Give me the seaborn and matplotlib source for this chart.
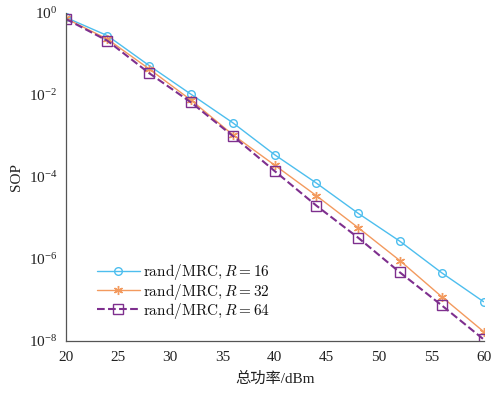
import numpy as np
import pandas as pd
import matplotlib
matplotlib.use("Agg")
import matplotlib.pyplot as plt
import seaborn as sns
from matplotlib.ticker import LogFormatterSciNotation, NullLocator

power = [20, 24, 28, 32, 36, 40, 44, 48, 52, 56, 60]
sop_r16 = [0.78, 0.28, 0.052, 0.0104, 0.0021, 3.5e-4, 7.1e-5, 1.3e-5, 2.7e-6, 4.6e-7, 9.1e-8]
sop_r32 = [0.74, 0.23, 0.043, 0.0075, 0.00107, 1.95e-4, 3.5e-5, 5.8e-6, 9.1e-7, 1.2e-7, 1.7e-8]
sop_r64 = [0.72, 0.21, 0.034, 0.0066, 0.0010, 1.4e-4, 2.0e-5, 3.3e-6, 4.7e-7, 7.4e-8, 1.1e-8]
labels = [r'$\mathrm{rand/MRC,}R = 16$', r'$\mathrm{rand/MRC,}R = 32$', r'$\mathrm{rand/MRC,}R = 64$']
xticks = [20, 25, 30, 35, 40, 45, 50, 55, 60]
yticks = [1e0, 1e-2, 1e-4, 1e-6, 1e-8]

sns.set_theme(style="white")
plt.rcParams['font.family'] = ['Liberation Serif', 'Noto Sans CJK SC']
plt.rcParams['mathtext.fontset'] = 'stix'

fig = plt.figure(figsize=(4.91, 4.00), dpi=100)
ax = fig.add_axes([0.1338, 0.1475, 0.851, 0.82])

colors = ['#4DBEEE', '#F39A5E', '#7E2F8E']
markers = ['o', (6, 2, 0), 's']
styles = ['-', '-', '--']
widths = [1.0, 1.0, 1.5]
msizes = [5.5, 6.5, 6.5]
series = [sop_r16, sop_r32, sop_r64]

for ys, lab, c, m, ls, lw, ms in zip(series, labels, colors, markers, styles, widths, msizes):
    sns.lineplot(x=power, y=ys, ax=ax, color=c, marker=m, linestyle=ls, linewidth=lw,
                 markersize=ms, markerfacecolor='none', markeredgecolor=c,
                 markeredgewidth=1.0, label=lab)

ax.set_yscale('log')
ax.set_xlim(20, 60)
ax.set_ylim(1e-8, 1e0)
ax.set_xticks(xticks)
ax.set_yticks(yticks)
ax.yaxis.set_minor_locator(NullLocator())
ax.yaxis.set_major_formatter(LogFormatterSciNotation())

for s in ['top', 'right']:
    ax.spines[s].set_visible(False)
for s in ['left', 'bottom']:
    ax.spines[s].set_color('#555555')
    ax.spines[s].set_linewidth(0.9)
ax.tick_params(direction='in', length=4, width=0.8, color='#555555', labelsize=11,
               labelcolor='#222222', pad=6)
ax.tick_params(axis='x', pad=7)

ax.set_xlabel('总功率/dBm', fontsize=11, color='#222222', labelpad=6)
ax.set_ylabel('SOP', fontsize=11, color='#222222', labelpad=4)

leg = ax.legend(loc='lower left', bbox_to_anchor=(0.06, 0.043), frameon=False,
                fontsize=11, handlelength=2.8, handletextpad=0.25, labelspacing=-0.05,
                borderaxespad=0)
for t in leg.get_texts():
    t.set_math_fontfamily('cm')
    t.set_color('#111111')

fig.savefig('out.png', dpi=100)
